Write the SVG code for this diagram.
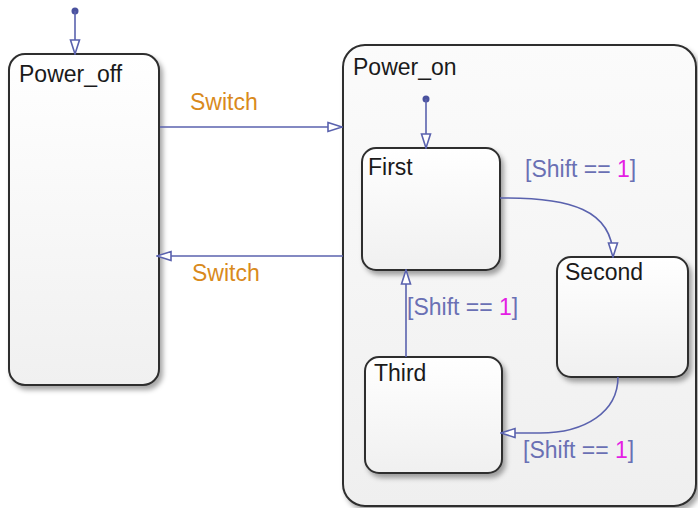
<svg xmlns="http://www.w3.org/2000/svg" width="698" height="508" viewBox="0 0 698 508">
<style>
.state{stroke:#2e2e2e;stroke-width:2;filter:url(#sh)}
.inner{fill:url(#gi)}
.outer{fill:url(#go)}
.lbl{font-family:"Liberation Sans",Arial,sans-serif;font-size:23px;fill:#1a1a1a}
.tr{fill:none;stroke:#5a62ae;stroke-width:1.6}
.sw{font-family:"Liberation Sans",Arial,sans-serif;font-size:23px;fill:#d98a1c}
.cond{font-family:"Liberation Sans",Arial,sans-serif;font-size:23px;fill:#6a70b4}
.num{fill:#e41ee4}
.dot{fill:#4a529e}
</style>
<defs>
<linearGradient id="gi" x1="0" y1="0" x2="0" y2="1"><stop offset="0" stop-color="#ffffff"/><stop offset="1" stop-color="#f0f0f0"/></linearGradient>
<linearGradient id="go" x1="0" y1="0" x2="0" y2="1"><stop offset="0" stop-color="#fbfbfb"/><stop offset="1" stop-color="#efefef"/></linearGradient>
<filter id="sh" x="-10%" y="-10%" width="130%" height="130%"><feDropShadow dx="3" dy="4" stdDeviation="2.5" flood-color="#000" flood-opacity="0.35"/></filter>
<marker id="ah" markerUnits="userSpaceOnUse" markerWidth="16" markerHeight="12" viewBox="0 0 16 12" refX="15" refY="6" orient="auto"><path d="M1,1.5 L15,6 L1,10.5 Z" fill="#ffffff" stroke="#5a62ae" stroke-width="1.6"/></marker>
</defs>
<g id="Power_off"><rect class="state inner" x="9" y="54" width="150" height="331" rx="16"/><text class="lbl" x="19" y="82">Power_off</text></g>
<g id="Power_on"><rect class="state outer" x="343" y="45" width="353" height="461" rx="22"/><text class="lbl" x="353" y="75">Power_on</text></g>
<g id="First"><rect class="state inner" x="362" y="148" width="138" height="122" rx="14"/><text class="lbl" x="368" y="175">First</text></g>
<g id="Second"><rect class="state inner" x="557" y="257" width="131" height="120" rx="14"/><text class="lbl" x="565" y="280">Second</text></g>
<g id="Third"><rect class="state inner" x="365" y="357" width="137" height="116" rx="14"/><text class="lbl" x="374" y="381">Third</text></g>
<g id="connectors">
<circle class="dot" cx="75" cy="11" r="3.5"/>
<path class="tr" d="M75,11 L75,54" marker-end="url(#ah)"/>
<circle class="dot" cx="426" cy="99" r="3.5"/>
<path class="tr" d="M426,99 L426,148" marker-end="url(#ah)"/>
<path class="tr" d="M160,127 L342,127" marker-end="url(#ah)"/>
<text class="sw" x="190" y="110">Switch</text>
<path class="tr" d="M343,256 L157,256" marker-end="url(#ah)"/>
<text class="sw" x="192" y="281">Switch</text>
<path class="tr" d="M500,198 C570,197 613,210 613,257" marker-end="url(#ah)"/>
<text class="cond" x="525" y="177">[Shift == <tspan class="num">1</tspan>]</text>
<path class="tr" d="M406,357 L406,270" marker-end="url(#ah)"/>
<text class="cond" x="407" y="315">[Shift == <tspan class="num">1</tspan>]</text>
<path class="tr" d="M618,377 C618,412 585,433 540,433 L501,433" marker-end="url(#ah)"/>
<text class="cond" x="523" y="458">[Shift == <tspan class="num">1</tspan>]</text>
</g>
</svg>
